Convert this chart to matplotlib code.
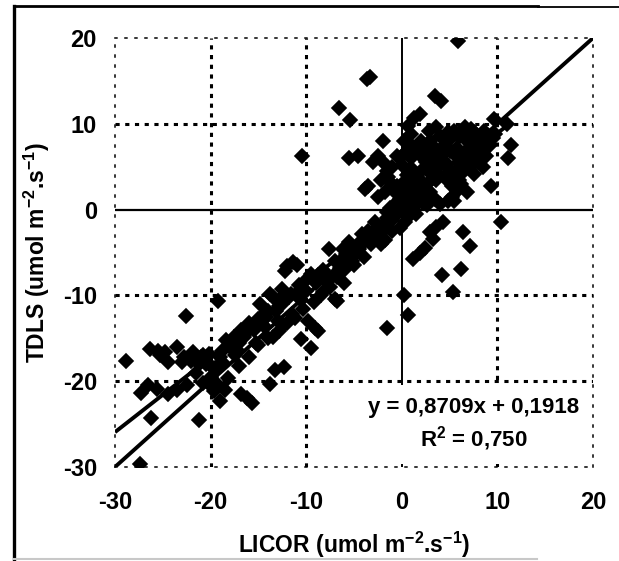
import matplotlib
matplotlib.use("Agg")
import matplotlib.pyplot as plt
from matplotlib.lines import Line2D
from matplotlib.patches import Rectangle

plt.rcParams['font.family'] = ['Liberation Sans', 'DejaVu Sans']
plt.rcParams['font.weight'] = 'bold'
plt.rcParams['mathtext.fontset'] = 'custom'
plt.rcParams['mathtext.rm'] = 'Liberation Sans:bold'
plt.rcParams['mathtext.default'] = 'rm'
plt.rcParams['lines.scale_dashes'] = False

# LICOR vs TDLS flux pairs (umol m-2 s-1)
licor = [
    # scattered upper / right points
    5.9, -3.6, -3.3, 3.5, 4.1, 1.9, 1.3, -6.6, -5.4, 0.7, 9.6, 11.0, -2.0, -10.4,
    -5.5, -4.6, 11.4, 11.1, -3.5, -3.9, 9.3, 10.4,
    6.4, 7.1, 4.3, 3.6, 3.0, 3.3, 1.9, 1.2, 2.4, 4.2, 6.2, 5.4, 0.25, 0.7, -1.6,
    # positive cluster
    0.0, 0.5, 1.0, 1.5, -0.5, -1.0, -0.8, 0.3, 1.2, 2.0, 2.5, 3.0, 3.5, 4.8, 5.2,
    5.8, 2.8, 3.5, 4.7, 5.0, 6.0, 6.5, 7.0, 7.5, 8.0, 8.5, 9.0, 6.0, 5.5, 4.5,
    3.8, 2.5, 2.0, 0.5, 0.0, -0.5, 0.5, 1.5, 2.5, 3.5, 4.5, 5.0, 6.0, 6.6, 5.5,
    7.0, 7.8, 8.2, 7.5, 8.5, 6.8, 4.0, 3.0, -1.5, -2.0, -2.5, -1.0, -1.8, -2.5,
    -0.5, 0.8, 1.6, 3.2, 4.2, 5.3, 6.8, 8.8, 9.8, 7.2, 2.2, 0.2, -0.2, 1.0,
    0.5, 1.0, 1.8, 2.3, 3.0, 3.9, 4.8, 5.5, 6.2, 6.5, 7.2, 7.8, 8.3, 5.8, 5.0,
    4.0, 3.2, 2.0, 1.0, 0.2, 0.8, 2.0, 4.8, 6.2, 7.2, 8.6, 9.2, 8.0, 7.0, 6.2,
    5.3, 3.6, 2.6, 1.8, 0.8, -0.3, -1.2, -0.5, -1.4, -1.0, -2.2, -3.0, 0.2, 1.0,
    2.8, 3.6, 5.5, 4.0, 6.6, 7.6, 8.8, 9.5,
    # band through the origin and lower-left
    0.3, -0.2, 0.8, -1.5, 1.5, -2.8, -3.5, -4.2, -5.5, -6.2, -5.8, -7.0, -8.2,
    -8.8, -9.5, -10.0, -10.8, -11.6, -12.8, -13.2, -14.2, -14.8, -13.8, -16.0,
    -16.8, -17.6, -18.4, -17.2, -18.8, -20.2, -21.0, -20.8, -19.6, -18.2, -17.0,
    -16.0, -15.0, -14.0, -12.8, -12.0, -11.2, -10.5, -9.2, -8.2, -7.8, -6.8,
    -6.0, -5.2, -4.4, -3.2, -2.4, -1.8, -11.0, -12.2,
    -1.5, -2.0, -2.5, -1.0, -3.0, -2.2, -3.8, -4.5, -5.2, -4.0, -5.0, -6.0,
    -6.5, -7.6, -5.6, -4.9, -6.0, -7.0, -8.0, -7.5, -9.0, -8.5, -11.4, -12.0,
    -10.0, -11.0, -12.5, -13.5, -12.5, -14.0, -11.5, -10.3, -9.8, -9.1, -7.0,
    -6.8, -8.8, -9.5, -10.5, -13.0, -14.5, -15.0, -15.5, -16.5, -15.2, -12.4,
    -13.5, -17.0, -18.0, -17.5, -19.0, -19.5, -20.0, -19.2, -19.0, -18.5, -20.5,
    -19.2, -22.6, -16.8, -16.2, -15.7, -13.8, -13.3, -12.3, -21.5, -22.5, -23.5,
    -24.5, -25.6, -28.8, -26.3, -25.3, -24.5, -23.5, -22.8, -22.0,
    -21.2, -26.5, -27.3, -26.2, -27.4, -21.2, -20.8, -18.8, -17.8,
    -16.0, -14.8, -11.8, -10.8, -9.2, -8.2, -3.0, -2.0, -1.2, -4.2, -12.8, -14.2,
    -25.5, -24.8, -23.0, -21.8, -20.0, -19.8,
]
tdls = [
    19.6, 15.2, 15.4, 13.2, 12.6, 11.1, 10.7, 11.8, 10.5, 9.7, 10.6, 10.0, 8.0, 6.2,
    6.0, 6.2, 7.5, 6.0, 2.8, 2.4, 2.8, -1.5,
    -2.6, -4.3, -1.4, -2.0, -2.6, -3.4, -5.1, -5.8, -4.5, -7.6, -6.9, -9.6, -10.0,
    -12.3, -13.8,
    0.0, 0.8, 1.5, 0.5, -0.5, -1.2, 0.5, 2.0, 2.6, 1.8, 1.0, 2.0, 1.2, 1.0, 1.5,
    2.2, 3.2, 3.8, 3.4, 4.2, 3.5, 4.5, 5.5, 6.5, 7.0, 7.8, 8.5, 5.5, 6.5, 5.5,
    5.0, 5.5, 4.5, 4.0, 5.2, 6.2, 6.8, 7.0, 6.8, 7.2, 7.5, 8.2, 8.5, 9.6, 9.2,
    8.0, 8.6, 6.0, 4.2, 5.0, 7.0, 8.6, 8.0, 4.5, 5.5, 6.2, 3.0, 2.0, 1.5,
    1.8, 3.2, 3.8, 5.8, 6.4, 2.8, 2.0, 7.2, 8.8, 9.0, 0.8, 3.2, 1.2, 4.8,
    2.8, 3.5, 2.2, 3.0, 4.3, 4.0, 4.8, 4.0, 5.0, 6.2, 6.8, 7.4, 8.2, 7.2, 6.8,
    7.0, 6.5, 6.2, 6.0, 6.5, 7.8, 8.0, 9.0, 9.2, 9.4, 9.2, 7.5, 5.5, 4.8, 3.0,
    3.3, 3.4, 0.5, 1.0, 0.2, 0.8, 0.2, 2.8, 3.8, 5.0, 3.5, 5.5, 8.0, 8.8,
    9.2, 9.6, 1.0, 0.6, 8.2, 9.0, 6.2, 8.4,
    -1.5, -2.2, -0.8, -0.3, -0.5, -1.5, -2.5, -2.8, -3.8, -4.6, -5.2, -6.0, -7.0,
    -7.6, -7.5, -8.2, -8.8, -9.8, -10.5, -11.8, -12.5, -11.0, -9.8, -13.2,
    -14.0, -14.8, -15.2, -16.4, -17.8, -16.8, -17.2, -20.2, -21.2, -19.6, -18.2,
    -17.2, -15.8, -15.0, -14.2, -13.2, -12.6, -10.5, -10.8, -9.6, -8.4, -7.8,
    -7.0, -6.0, -4.2, -4.0, -3.2, -3.5, -6.5, -7.2,
    -1.0, -2.5, -2.0, -2.5, -3.2, -4.0, -3.5, -4.6, -4.8, -5.5, -6.5, -5.8,
    -6.8, -4.6, -6.1, -5.2, -8.5, -7.5, -8.0, -9.0, -8.5, -10.0, -6.1, -6.6,
    -9.5, -10.0, -9.2, -10.2, -11.0, -11.8, -12.2, -11.6, -13.0, -13.8, -10.4,
    -10.7, -14.2, -16.1, -15.1, -13.0, -13.5, -12.8, -14.0, -14.8, -15.5, -13.5,
    -14.8, -15.5, -16.0, -17.0, -17.2, -18.5, -19.5, -20.5, -22.3, -21.0, -18.0,
    -10.6, -12.4, -21.5, -22.0, -22.5, -20.3, -18.7, -18.3, -19.0, -20.5, -21.0,
    -21.5, -20.9, -17.6, -16.2, -17.0, -17.8, -16.0, -17.2, -17.6,
    -18.0, -20.5, -21.4, -24.3, -29.7, -24.5, -17.0, -16.5, -15.8,
    -14.0, -12.6, -10.2, -9.5, -8.0, -7.2, -2.6, -1.8, -0.8, -3.6, -11.2, -12.5,
    -16.5, -16.6, -17.8, -16.6, -18.2, -20.8,
]

slope, intercept = 0.8709, 0.1918
r_squared = 0.750

x_ticks = [-30, -20, -10, 0, 10, 20]
y_ticks = [-30, -20, -10, 0, 10, 20]

W, H = 619, 561
fig = plt.figure(figsize=(W / 100, H / 100), dpi=100)
ax = fig.add_axes([115 / W, 1 - 467 / H, (593 - 115) / W, (467 - 38) / H])
ax.set_xlim(-30, 20)
ax.set_ylim(-30, 20)

# heavy square-dot gridlines
grid_kw = dict(color='black', lw=2.2, dashes=(3.0, 4.0), dash_capstyle='butt', zorder=0.5)
for v in (-20, -10, 10):
    ax.axvline(v, **grid_kw)
    ax.axhline(v, **grid_kw)

# zero axes
ax.axhline(0, color='black', lw=1.6, zorder=1)
ax.axvline(0, color='black', lw=1.4, zorder=1)

# fine dotted plot-area border
for side in ax.spines.values():
    side.set_linestyle((0, (1.4, 5.8)))
    side.set_linewidth(1.1)
    side.set_color('black')

# white label area under the equation
ax.add_patch(Rectangle((-0.6, -29.6), 20.1, 9.2, facecolor='white', edgecolor='none', zorder=1.5))

ax.plot(licor, tdls, linestyle='none', marker='D', ms=7.4, mfc='black', mec='black',
        mew=1.2, zorder=2)

# 1:1 line and fitted trend
ax.plot([-30, 20], [-30, 20], color='black', lw=2.8, solid_capstyle='butt', zorder=3)
xf = [-30, max(licor)]
ax.plot(xf, [slope * v + intercept for v in xf], color='black', lw=2.8,
        solid_capstyle='butt', zorder=3)

ax.set_xticks(x_ticks)
ax.set_yticks(y_ticks)
ax.set_xticklabels([str(v) for v in x_ticks], fontsize=17, fontweight='bold')
ax.set_yticklabels([str(v) for v in y_ticks], fontsize=17, fontweight='bold')
ax.tick_params(axis='x', length=0, pad=17)
ax.tick_params(axis='y', length=0, pad=13)

ax.set_xlabel('LICOR (umol m$^{-2}$.s$^{-1}$)', fontsize=16.5, fontweight='bold', labelpad=12)
ax.set_ylabel('TDLS (umol m$^{-2}$.s$^{-1}$)', fontsize=16.5, fontweight='bold', labelpad=8)

ax.text(7.5, -23.1, f'y = {slope:.4f}x + {intercept:.4f}'.replace('.', ','),
        ha='center', va='center', fontsize=16, fontweight='bold', zorder=4)
ax.text(7.5, -26.7, 'R$^{2}$ = ' + f'{r_squared:.3f}'.replace('.', ','),
        ha='center', va='center', fontsize=16, fontweight='bold', zorder=4)

# outer frame
def fline(x0, y0, x1, y1, **kw):
    fig.add_artist(Line2D([x0 / W, x1 / W], [1 - y0 / H, 1 - y1 / H],
                          transform=fig.transFigure, **kw))

fline(14, 6, 14, 561, color='black', lw=2.4)
fline(14, 6, 538, 6, color='black', lw=2.0)
fline(538, 6.5, 619, 6.5, color='black', lw=1.3)
fline(14, 559, 537, 559, color='#c8c8c8', lw=1.5)

fig.savefig('out.png', dpi=100)
